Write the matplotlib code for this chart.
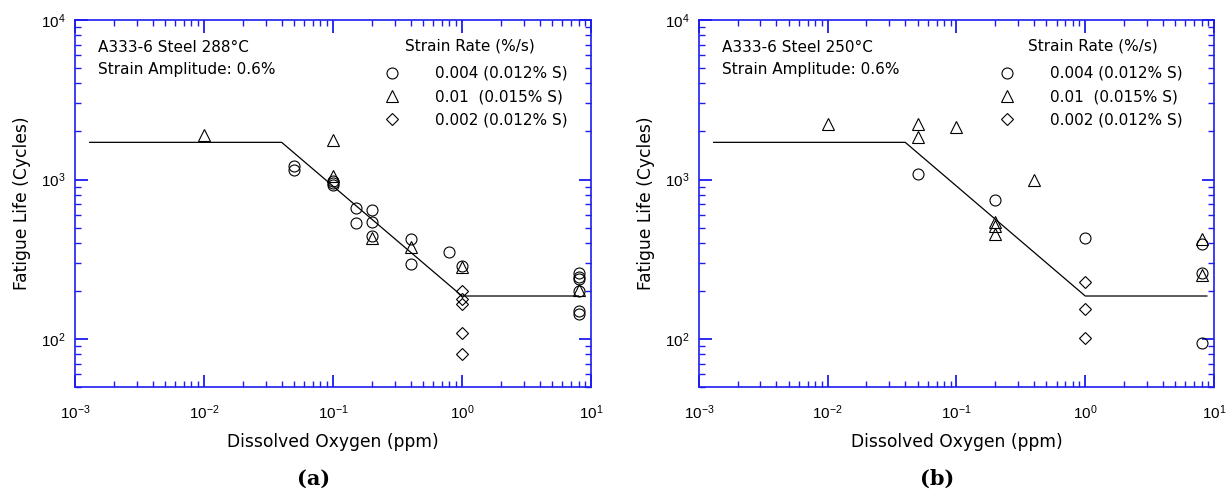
import matplotlib
matplotlib.use("Agg")
import matplotlib.pyplot as plt
from matplotlib.ticker import LogLocator, NullFormatter
from matplotlib.lines import Line2D

plt.rcParams['font.family'] = ['Liberation Sans', 'DejaVu Sans']
plt.rcParams['font.size'] = 11

# ---- panel (a): 288 C ----
a_circ_x = [0.05, 0.05, 0.1, 0.1, 0.1, 0.15, 0.15, 0.2, 0.2, 0.2, 0.4, 0.4, 0.8, 1.0,
            8, 8, 8, 8, 8, 8]
a_circ_y = [1210, 1155, 974, 953, 930, 658, 531, 643, 544, 440, 422, 294, 351, 287,
            261, 243, 237, 200, 150, 143]
a_tri_x = [0.01, 0.1, 0.1, 0.2, 0.4, 1.0, 8]
a_tri_y = [1900, 1760, 1048, 432, 379, 282, 202]
a_dia_x = [1.0, 1.0, 1.0, 1.0, 1.0]
a_dia_y = [200, 178, 165, 109, 81]
a_line_x = [0.0013, 0.04, 1.0, 8.0]
a_line_y = [1710, 1710, 186, 186]

# ---- panel (b): 250 C ----
b_circ_x = [0.05, 0.2, 1.0, 8, 8, 8]
b_circ_y = [1075, 743, 428, 396, 259, 94]
b_tri_x = [0.01, 0.05, 0.05, 0.1, 0.2, 0.2, 0.2, 0.4, 8, 8]
b_tri_y = [2230, 2230, 1850, 2133, 541, 512, 453, 990, 422, 251]
b_dia_x = [1.0, 1.0, 1.0]
b_dia_y = [228, 154, 102]
b_line_x = [0.0013, 0.04, 1.0, 8.8]
b_line_y = [1710, 1710, 186, 186]

legend_title = "Strain Rate (%/s)"
legend_labels = ["0.004 (0.012% S)", "0.01  (0.015% S)", "0.002 (0.012% S)"]

panels = [
    dict(pos=[0.0609, 0.215, 0.4192, 0.7444], temp="288°C", tag="(a)", tag_x=0.255,
         leg_x=0.600, title_x=0.640,
         circ=(a_circ_x, a_circ_y), tri=(a_tri_x, a_tri_y), dia=(a_dia_x, a_dia_y),
         line=(a_line_x, a_line_y)),
    dict(pos=[0.5678, 0.215, 0.4184, 0.7444], temp="250°C", tag="(b)", tag_x=0.761,
         leg_x=0.583, title_x=0.639,
         circ=(b_circ_x, b_circ_y), tri=(b_tri_x, b_tri_y), dia=(b_dia_x, b_dia_y),
         line=(b_line_x, b_line_y)),
]

axis_blue = '#1c1cf0'
text_font = ['DejaVu Sans']
marker_styles = [('o', 7.9), ('^', 8.3), ('D', 6.3)]

fig = plt.figure(figsize=(12.31, 4.93), dpi=100)

for p in panels:
    ax = fig.add_axes(p['pos'])
    ax.set_xscale('log')
    ax.set_yscale('log')

    ax.plot(p['line'][0], p['line'][1], '-', color='black', lw=0.9, zorder=2)

    handles = []
    for (xs, ys), (mk, ms) in zip([p['circ'], p['tri'], p['dia']], marker_styles):
        ax.plot(xs, ys, linestyle='none', marker=mk, ms=ms, mfc='none', mec='black',
                mew=0.8, zorder=3)
        handles.append(Line2D([], [], linestyle='none', marker=mk, ms=ms, mfc='none',
                              mec='black', mew=0.8))

    ax.set_xlim(1e-3, 1e1)
    ax.set_ylim(50, 1e4)

    ax.xaxis.set_major_locator(LogLocator(base=10, numticks=10))
    ax.xaxis.set_minor_locator(LogLocator(base=10, subs=range(2, 10), numticks=20))
    ax.yaxis.set_minor_locator(LogLocator(base=10, subs=range(2, 10), numticks=20))
    ax.xaxis.set_minor_formatter(NullFormatter())
    ax.yaxis.set_minor_formatter(NullFormatter())

    for s in ax.spines.values():
        s.set_color(axis_blue)
        s.set_linewidth(1.2)
    ax.tick_params(which='both', direction='in', top=True, right=True, color=axis_blue,
                   labelsize=11, labelcolor='black')
    ax.tick_params(which='major', length=9, width=1.3)
    ax.tick_params(axis='x', which='major', pad=12)
    ax.tick_params(axis='y', which='major', pad=7)
    ax.tick_params(which='minor', length=4.5, width=1.0)

    ax.set_xlabel("Dissolved Oxygen (ppm)", fontsize=12.3, family=text_font)
    ax.set_ylabel("Fatigue Life (Cycles)", fontsize=12.3, family=text_font)
    ax.xaxis.set_label_coords(0.5, -0.125)
    ax.yaxis.set_label_coords(-0.086, 0.5)

    ax.text(0.045, 0.924, "A333-6 Steel " + p['temp'], transform=ax.transAxes,
            fontsize=11, va='center', ha='left', family=text_font)
    ax.text(0.045, 0.866, "Strain Amplitude: 0.6%", transform=ax.transAxes,
            fontsize=11, va='center', ha='left', family=text_font)
    ax.text(p['title_x'], 0.929, legend_title, transform=ax.transAxes,
            fontsize=11, va='center', ha='left', family=text_font)

    ax.legend(handles, legend_labels, loc='upper left',
              bbox_to_anchor=(p['leg_x'], 0.875), frameon=False,
              prop={'family': text_font, 'size': 11},
              handlelength=1.0, handletextpad=2.3,
              labelspacing=0.55, borderpad=0, borderaxespad=0)

    fig.text(p['tag_x'], 0.028, p['tag'], ha='center', va='center', fontsize=15,
             fontweight='bold', family='DejaVu Serif')

fig.savefig('out.png', dpi=100)
